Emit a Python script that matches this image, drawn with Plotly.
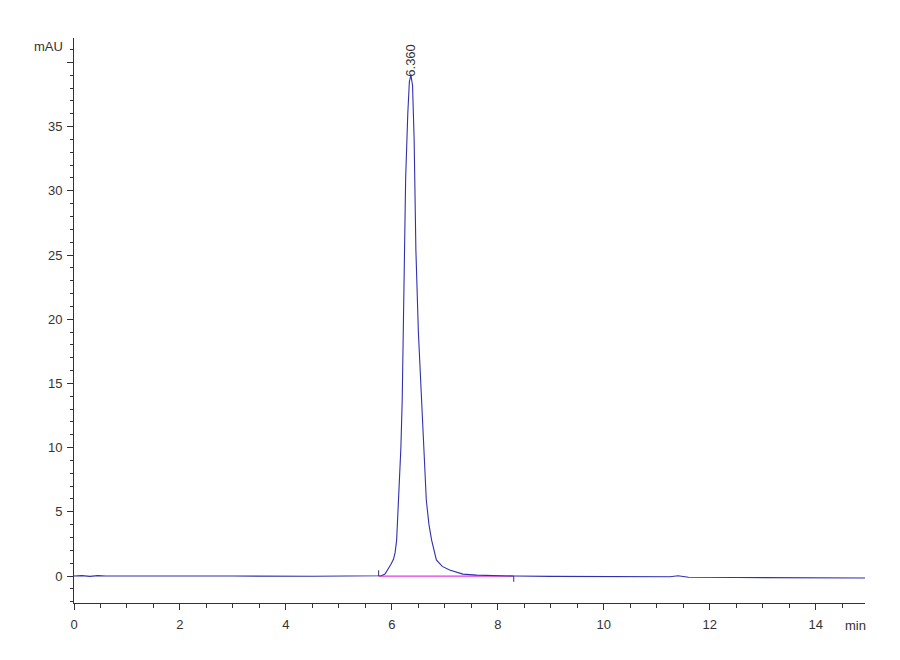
import plotly.graph_objects as go

# ==========================================
# DATA
# ==========================================
time_min = [0.0, 0.15, 0.3, 0.45, 0.6, 1.5, 3.0, 4.5, 5.5, 5.7, 5.8, 5.87, 5.92, 5.98,
            6.03, 6.06, 6.09, 6.13, 6.17, 6.195, 6.232, 6.26, 6.30, 6.33, 6.36,
            6.39, 6.42, 6.453, 6.50, 6.56, 6.60, 6.65, 6.70, 6.75, 6.84, 6.95, 7.09,
            7.34, 7.6, 8.0, 8.3, 9.0, 10.0, 11.0, 11.1, 11.25, 11.4, 11.6,
            12.5, 13.5, 14.93]
signal_mau = [0.0, 0.03, -0.03, 0.03, 0.0, -0.02, 0.0, -0.02, -0.03, 0.0, 0.02, 0.15, 0.47, 0.9,
              1.3, 1.8, 2.8, 5.9, 10.0, 13.7, 25.4, 31.0, 36.0, 38.5, 39.0,
              38.2, 34.0, 25.4, 19.0, 13.7, 9.5, 5.9, 4.0, 2.8, 1.25, 0.75, 0.47,
              0.15, 0.07, 0.02, 0.0, -0.03, -0.05, -0.07, -0.1, -0.06, 0.02, -0.1,
              -0.12, -0.13, -0.15]

peak_rt = 6.360
peak_height = 39.0
baseline_start = 5.75
baseline_end = 8.3

x_ticks = [0, 2, 4, 6, 8, 10, 12, 14]
y_ticks = [0, 5, 10, 15, 20, 25, 30, 35, 40]
y_ticktext = ["0", "5", "10", "15", "20", "25", "30", "35", ""]

fig = go.Figure()

# integration baseline
fig.add_trace(go.Scatter(
    x=[baseline_start, baseline_end], y=[0, 0],
    mode="lines", line=dict(color="#e23de2", width=1.2), hoverinfo="skip"
))
# start / end markers of the integrated peak
fig.add_trace(go.Scatter(
    x=[baseline_start, baseline_start, None, baseline_end, baseline_end],
    y=[0, 0.45, None, 0, -0.45],
    mode="lines", line=dict(color="#333366", width=1), hoverinfo="skip"
))
# signal
fig.add_trace(go.Scatter(
    x=time_min, y=signal_mau,
    mode="lines", line=dict(color="#3030b0", width=1.1)
))

# retention time label
fig.add_annotation(
    x=peak_rt, y=peak_height, text=f"{peak_rt:.3f}", showarrow=False,
    textangle=-90, yanchor="bottom", yshift=-3,
    font=dict(family="Arial", size=13, color="#333333")
)
fig.add_annotation(
    x=0, y=41.2, xref="x", yref="y", text="mAU", showarrow=False,
    xanchor="right", xshift=-9, font=dict(family="Arial", size=13, color="#333333")
)
fig.add_annotation(
    x=14.75, y=-2.1, xref="x", yref="y", text="min", showarrow=False,
    yanchor="top", yshift=-13, font=dict(family="Arial", size=13, color="#333333")
)

fig.update_layout(
    width=900, height=660,
    margin=dict(l=66, r=43, t=30, b=65),
    plot_bgcolor="white", paper_bgcolor="white",
    showlegend=False,
    font=dict(family="Arial", size=13, color="#333333")
)
fig.update_xaxes(
    range=[0, 14.93], tickvals=x_ticks, showgrid=False, zeroline=False,
    showline=True, linecolor="#333333", linewidth=1,
    ticks="outside", ticklen=6, tickcolor="#333333", ticklabelstandoff=3,
    minor=dict(dtick=0.5, ticks="outside", ticklen=4, tickcolor="#333333", showgrid=False)
)
fig.update_yaxes(
    range=[-2.1, 41.9], tickvals=y_ticks, ticktext=y_ticktext,
    showgrid=False, zeroline=False,
    showline=True, linecolor="#333333", linewidth=1,
    ticks="outside", ticklen=6, tickcolor="#333333", ticklabelstandoff=2,
    minor=dict(dtick=1, ticks="outside", ticklen=3, tickcolor="#333333", showgrid=False)
)

fig.write_html("out.html")
